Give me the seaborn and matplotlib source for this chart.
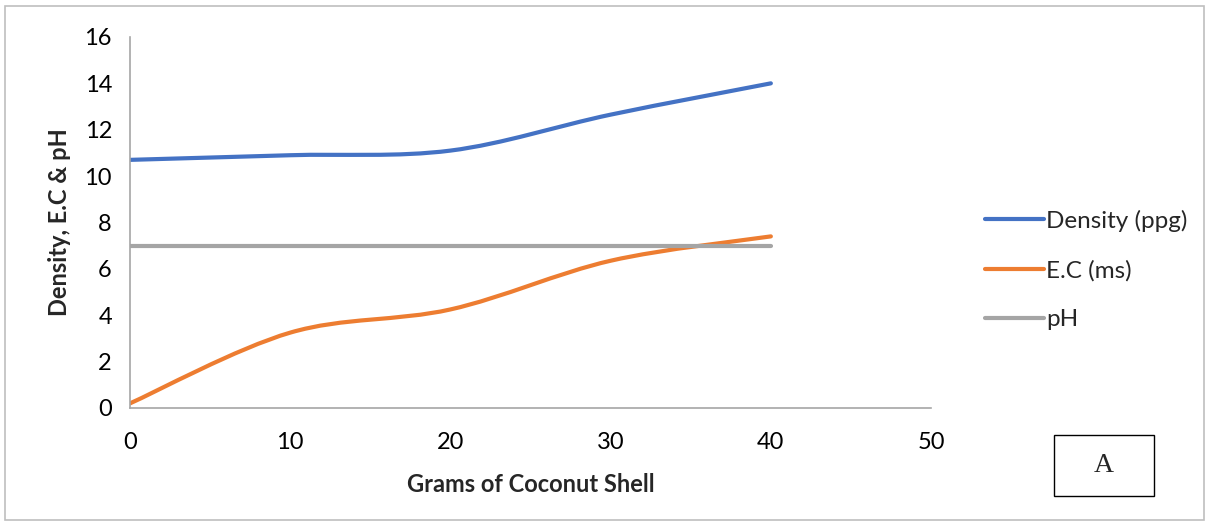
import numpy as np
import pandas as pd
import matplotlib
matplotlib.use("Agg")
import matplotlib.pyplot as plt
from matplotlib.path import Path
from matplotlib.patches import PathPatch, Rectangle
from matplotlib.lines import Line2D
import seaborn as sns

# ---- data ----
grams = [0, 10, 20, 30, 40]
density = [10.7, 10.9, 11.1, 12.65, 14.0]
ec = [0.2, 3.25, 4.25, 6.35, 7.4]
ph = [7, 7, 7, 7, 7]
series_names = ["Density (ppg)", "E.C (ms)", "pH"]
colors = ["#4472C4", "#ED7D31", "#A5A5A5"]
x_ticks = [0, 10, 20, 30, 40, 50]
y_ticks = [0, 2, 4, 6, 8, 10, 12, 14, 16]

sns.set_style("white")
plt.rcParams["font.family"] = ["Lato", "DejaVu Sans"]

fig = plt.figure(figsize=(12.12, 5.28), dpi=100)
ax = fig.add_axes([0.1073, 0.2273, 0.6609, 0.7027])

def smooth_path(xs, ys):
    """Excel-style smoothed line: cubic Bezier segments through the data points."""
    xs = np.asarray(xs, float); ys = np.asarray(ys, float)
    n = len(xs)
    verts = [(xs[0], ys[0])]
    codes = [Path.MOVETO]
    for i in range(n - 1):
        p0 = np.array([xs[max(i - 1, 0)], ys[max(i - 1, 0)]])
        p1 = np.array([xs[i], ys[i]])
        p2 = np.array([xs[i + 1], ys[i + 1]])
        p3 = np.array([xs[min(i + 2, n - 1)], ys[min(i + 2, n - 1)]])
        c1 = p1 + (p2 - p0) / 6.0
        c2 = p2 - (p3 - p1) / 6.0
        verts += [tuple(c1), tuple(c2), tuple(p2)]
        codes += [Path.CURVE4] * 3
    return Path(verts, codes)

# pH (straight line) via seaborn
df_ph = pd.DataFrame({"x": grams, "y": ph})
sns.lineplot(data=df_ph, x="x", y="y", ax=ax, color=colors[2], linewidth=3.0, legend=False)
ax.lines[-1].set_solid_capstyle("round")

for ys, c in [(density, colors[0]), (ec, colors[1])]:
    patch = PathPatch(smooth_path(grams, ys), facecolor="none", edgecolor=c,
                      linewidth=3.0, capstyle="round", transform=ax.transData)
    ax.add_patch(patch)

ax.set_xlim(0, 50)
ax.set_ylim(0, 16)
ax.set_xticks(x_ticks)
ax.set_yticks(y_ticks)
ax.tick_params(axis="both", labelsize=17, colors="#A6A6A6", labelcolor="black",
               length=6, width=1.2, direction="out")
ax.tick_params(axis="x", pad=11)
ax.tick_params(axis="y", pad=7)
for s in ["top", "right"]:
    ax.spines[s].set_visible(False)
for s in ["left", "bottom"]:
    ax.spines[s].set_color("#A6A6A6")
    ax.spines[s].set_linewidth(1.2)

ax.set_xlabel("Grams of Coconut Shell", fontsize=17, fontweight="bold", labelpad=15)
ax.set_ylabel("Density, E.C & pH", fontsize=17, fontweight="bold", labelpad=10)

handles = [Line2D([0], [0], color=c, linewidth=3) for c in colors]
fig.legend(handles, series_names, loc="center left", bbox_to_anchor=(0.795, 0.489),
           frameon=False, fontsize=17.5, handlelength=2.4, handletextpad=0.1,
           labelspacing=1.15)

# outer chart border
fig.patches.append(Rectangle((5 / 1212, 8 / 528), 1199 / 1212, 514 / 528,
                             transform=fig.transFigure, fill=False,
                             edgecolor="#BFBFBF", linewidth=1.2))
# "A" box
fig.patches.append(Rectangle((1054 / 1212, 1 - 496 / 528), 100 / 1212, 61 / 528,
                             transform=fig.transFigure, fill=False,
                             edgecolor="black", linewidth=1.0))
fig.text(1104 / 1212, 1 - 466 / 528, "A", ha="center", va="center",
         fontsize=20, family=["Liberation Serif", "DejaVu Serif"])

fig.savefig("out.png", dpi=100)
